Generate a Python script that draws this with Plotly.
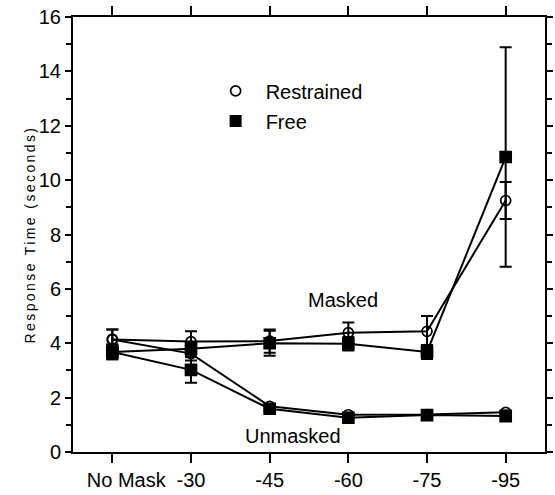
import plotly.graph_objects as go

categories = ["No Mask", "-30", "-45", "-60", "-75", "-95"]
tick_labels = ["\u00a0\u00a0\u00a0\u00a0\u00a0No Mask", "-30", "-45", "-60", "-75", "-95"]

restrained_masked = [4.14, 4.06, 4.08, 4.39, 4.44, 9.25]
restrained_masked_err = [0.37, 0.38, 0.43, 0.37, 0.56, 0.68]
free_masked = [3.68, 3.80, 4.00, 3.98, 3.68, 10.85]
free_masked_err = [0.27, 0.22, 0.46, 0.25, 0.26, 4.04]

restrained_unmasked = [4.14, 3.62, 1.68, 1.37, 1.38, 1.46]
restrained_unmasked_err = [0.37, 0.25, 0.08, 0.07, 0.07, 0.07]
free_unmasked = [3.68, 3.02, 1.59, 1.26, 1.36, 1.32]
free_unmasked_err = [0.27, 0.47, 0.08, 0.07, 0.07, 0.07]

FONT = "Liberation Sans, Arial, sans-serif"
BLACK = "#000000"

fig = go.Figure()

def add_series(y, err, symbol, size):
    fig.add_trace(go.Scatter(
        x=categories, y=y, mode="lines+markers", showlegend=False,
        line=dict(color=BLACK, width=2),
        marker=dict(symbol=symbol, size=size, color=BLACK,
                    line=dict(color=BLACK, width=1.7)),
        error_y=dict(type="data", array=err, visible=True,
                     color=BLACK, thickness=2, width=6),
    ))

add_series(restrained_masked, restrained_masked_err, "circle-open", 10)
add_series(free_masked, free_masked_err, "square", 11)
add_series(restrained_unmasked, restrained_unmasked_err, "circle-open", 10)
add_series(free_unmasked, free_unmasked_err, "square", 11)

fig.add_trace(go.Scatter(x=[None], y=[None], mode="markers", name="Restrained",
                         legendgroup="r",
                         marker=dict(symbol="circle-open", size=10, color=BLACK,
                                     line=dict(color=BLACK, width=1.7))))
fig.add_trace(go.Scatter(x=[None], y=[None], mode="markers", name="Free",
                         legendgroup="f",
                         marker=dict(symbol="square", size=12, color=BLACK)))

fig.add_annotation(x=categories.index("-60"), y=5.6, text="Masked", showarrow=False,
                   font=dict(family=FONT, size=20, color=BLACK), xshift=-5)
fig.add_annotation(x=categories.index("-45"), y=0.6, text="Unmasked", showarrow=False,
                   font=dict(family=FONT, size=20, color=BLACK), xshift=23)

fig.update_layout(
    width=555, height=495,
    margin=dict(l=73, r=2, t=17, b=43),
    paper_bgcolor="white", plot_bgcolor="white",
    font=dict(family=FONT, size=20, color=BLACK),
    legend=dict(x=0.281, y=0.875, xanchor="left", yanchor="top",
                font=dict(family=FONT, size=20, color=BLACK),
                bgcolor="rgba(0,0,0,0)", tracegroupgap=1, itemwidth=50),
    xaxis=dict(type="category", categoryorder="array", categoryarray=categories,
               range=[-0.5, 5.5], tickvals=categories, ticktext=tick_labels,
               showline=True, linewidth=2, linecolor=BLACK, mirror="ticks",
               ticks="outside", ticklen=9, tickwidth=2, tickcolor=BLACK,
               showgrid=False, zeroline=False,
               tickfont=dict(family=FONT, size=20, color=BLACK)),
    yaxis=dict(range=[0, 16], dtick=2, tick0=0,
               showline=True, linewidth=2, linecolor=BLACK, mirror="ticks",
               ticks="outside", ticklen=6, tickwidth=2, tickcolor=BLACK,
               minor=dict(dtick=1, ticks="outside", ticklen=5, tickwidth=2,
                          tickcolor=BLACK, showgrid=False),
               showgrid=False, zeroline=False,
               tickfont=dict(family=FONT, size=20, color=BLACK),
               title=dict(text='<span style="letter-spacing:2.4px">Response Time (seconds)</span>',
                          font=dict(family=FONT, size=14, color=BLACK),
                          standoff=0)),
)

fig.write_html("out.html")
